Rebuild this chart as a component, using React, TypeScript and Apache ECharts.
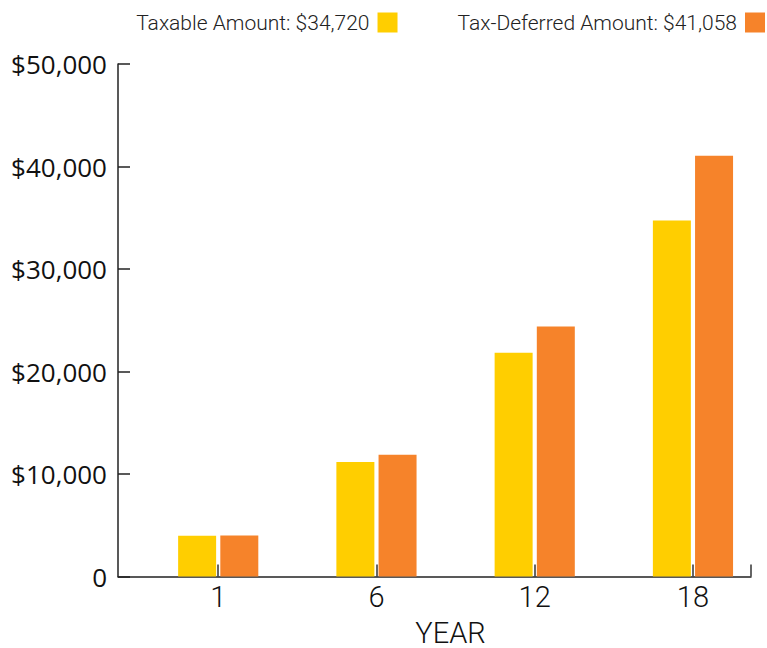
import React, { useEffect, useRef } from "react";
import * as echarts from "echarts";

const years = ["1", "6", "12", "18"];
const baseValues = [0, 0, 0, 0];
const taxable = [3980, 11180, 21830, 34720];
const taxDeferred = [4000, 11870, 24400, 41058];
const yTicks = [0, 10000, 20000, 30000, 40000, 50000];
const yTickLabels = ["0", "$10,000", "$20,000", "$30,000", "$40,000", "$50,000"];

const fmt = (v: number) => v.toLocaleString("en-US");
const taxableName = `Taxable Amount: $${fmt(taxable[taxable.length - 1])}`;
const deferredName = `Tax-Deferred Amount: $${fmt(taxDeferred[taxDeferred.length - 1])}`;

export default function App() {
  const ref = useRef<HTMLDivElement>(null);
  useEffect(() => {
    document.body.style.margin = "0";
    if (!ref.current) return;
    const chart = echarts.init(ref.current, null, { renderer: "svg" });
    const labelOffset = 0.133;
    const tickPositions = years.map((_, i) => i + labelOffset);
    chart.setOption({
      animation: false,
      legend: {
        data: [taxableName, deferredName],
        right: 2,
        top: 12,
        padding: 0,
        align: "right",
        icon: "rect",
        itemWidth: 20,
        itemHeight: 20,
        itemGap: 60,
        textStyle: {
          fontFamily: "Roboto",
          fontWeight: 300,
          fontSize: 21,
          color: "#222",
          padding: [0, 3, 0, 0],
        },
      },
      grid: { left: 118, right: 16, top: 64, bottom: 71.5, outerBoundsMode: "none", containLabel: false },
      xAxis: [
        {
          type: "category",
          data: years,
          boundaryGap: true,
          axisLine: { show: true, lineStyle: { color: "#222", width: 1.5 } },
          axisTick: { show: false },
          axisLabel: { show: false },
          name: "YEAR",
          nameLocation: "middle",
          nameGap: 43,
          nameTextStyle: {
            fontFamily: "Roboto",
            fontWeight: 300,
            fontSize: 29,
            lineHeight: 26,
            color: "#111",
            padding: [0, 0, 0, 32],
          },
        },
        {
          type: "value",
          position: "bottom",
          min: -0.5,
          max: years.length - 0.5,
          axisLine: { show: false },
          splitLine: { show: false },
          axisTick: {
            show: true,
            inside: true,
            length: 12,
            customValues: [...tickPositions, years.length - 0.5],
            lineStyle: { color: "#333", width: 1.5 },
          },
          axisLabel: {
            show: true,
            customValues: tickPositions,
            formatter: (v: number) => years[Math.round(v - labelOffset)],
            fontFamily: "Roboto",
            fontWeight: 300,
            fontSize: 29,
            color: "#111",
            margin: 6,
          },
        },
      ],
      yAxis: {
        type: "value",
        min: yTicks[0],
        max: yTicks[yTicks.length - 1],
        interval: yTicks[1] - yTicks[0],
        axisLine: { show: true, onZero: false, lineStyle: { color: "#222", width: 1.5 } },
        axisTick: { show: true, inside: true, length: 12, lineStyle: { color: "#222", width: 1.5 } },
        splitLine: { show: false },
        axisLabel: {
          formatter: (v: number) => yTickLabels[yTicks.indexOf(v)] ?? "",
          fontFamily: "Open Sans",
          fontSize: 26,
          color: "#111",
          margin: 11,
        },
      },
      series: [
        {
          name: "base",
          type: "bar",
          xAxisIndex: 0,
          data: baseValues,
          barWidth: 38,
          barGap: "11%",
          itemStyle: { color: "#d0d0d0" },
        },
        {
          name: taxableName,
          type: "bar",
          xAxisIndex: 0,
          data: taxable,
          barWidth: 38,
          barGap: "11%",
          itemStyle: { color: "#FFCE00" },
        },
        {
          name: deferredName,
          type: "bar",
          xAxisIndex: 0,
          data: taxDeferred,
          barWidth: 38,
          barGap: "11%",
          itemStyle: { color: "#F6832A" },
        },
      ],
    });
    return () => chart.dispose();
  }, []);
  return <div ref={ref} style={{ width: 767, height: 648 }} />;
}
